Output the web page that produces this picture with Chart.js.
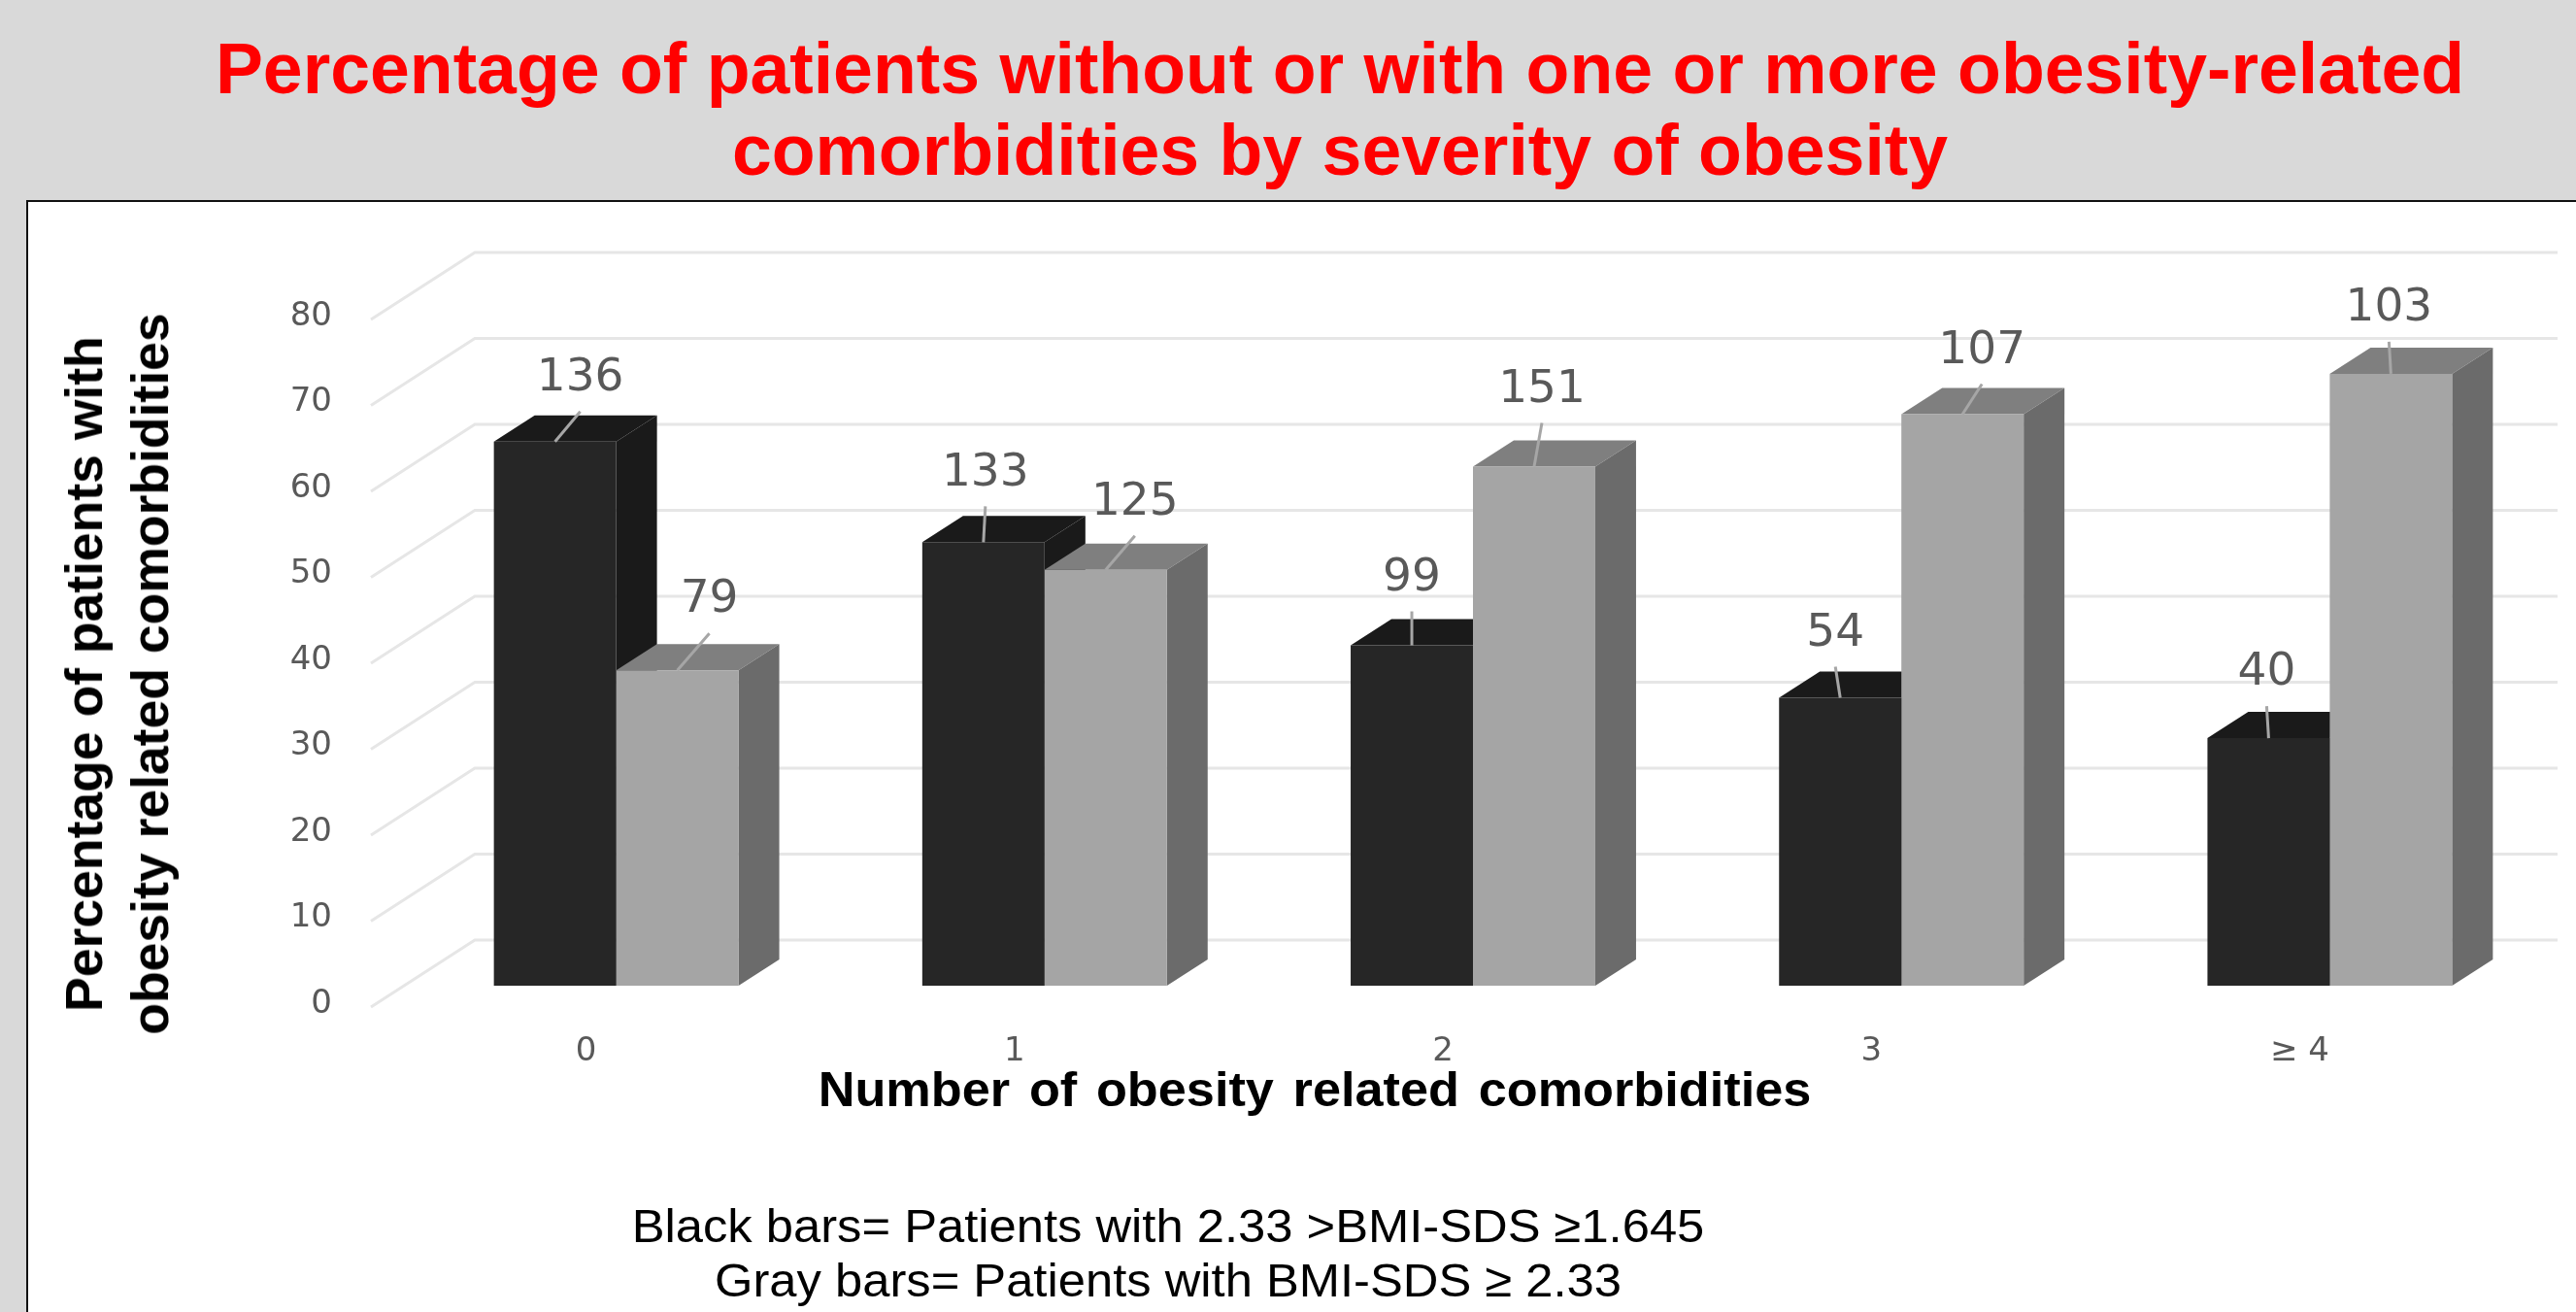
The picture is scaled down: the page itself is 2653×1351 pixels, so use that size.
<!DOCTYPE html>
<html>
<head>
<meta charset="utf-8">
<title>Obesity related comorbidities</title>
<script src="https://cdn.jsdelivr.net/npm/chart.js@4/dist/chart.umd.min.js"></script>
<style>
    html, body { margin: 0; width: 2653px; height: 1351px; overflow: hidden; background: #d9d9d9; }
    body { position: relative; font-family: "Liberation Sans", Arial, sans-serif; }
    #panel { position: absolute; left: 27px; top: 206px; width: 2640px; height: 1160px; background: #fff; border: 2px solid #111; }
    #chart { position: absolute; left: 0; top: 0; }
    .txt { position: absolute; white-space: nowrap; text-align: center; transform: translate(-50%, -50%); }
    #title { left: 1380px; top: 113px; color: #f00; font-weight: bold; font-size: 73.4px; line-height: 84px; }
    #xcap { left: 1354px; top: 1122px; color: #000; font-weight: bold; font-size: 50px; word-spacing: 5px; transform: translate(-50%, -50%) scaleX(1.045); }
    #ycap { left: 121px; top: 694px; color: #000; font-weight: bold; font-size: 53.5px; line-height: 68px; transform: translate(-50%, -50%) rotate(-90deg); }
    #note { left: 1203px; top: 1290px; color: #000; font-size: 49px; line-height: 56px; transform: translate(-50%, -50%) scaleX(1.035); }
</style>
</head>
<body>
<div id="panel"></div>
<canvas id="chart" width="2653" height="1351"></canvas>
<div id="title" class="txt">Percentage of patients without or with one or more obesity-related<br>comorbidities by severity of obesity</div>
<div id="xcap" class="txt">Number of obesity related comorbidities</div>
<div id="ycap" class="txt">Percentage of patients with<br>obesity related comorbidities</div>
<div id="note" class="txt">Black bars= Patients with 2.33 &gt;BMI-SDS ≥1.645<br>Gray bars= Patients with BMI-SDS ≥ 2.33</div>

<script>
const categories = ["0", "1", "2", "3", "≥ 4"]
const blackPercent = [63.3, 51.6, 39.6, 33.5, 28.8]
const grayPercent = [36.7, 48.4, 60.4, 66.5, 71.2]
const blackPatients = [136, 133, 99, 54, 40]
const grayPatients = [79, 125, 151, 107, 103]

// faux 3D: back wall with its receding gridlines, then top and side faces behind each bar
const boxFaces = {
    id: "boxFaces",
    beforeDatasetsDraw(chart, args, opts) {
        const ctx = chart.ctx
        const y = chart.scales.y
        ctx.save()
        ctx.lineWidth = 3
        ctx.strokeStyle = opts.gridColor
        y.ticks.forEach((t)=> {
            const py = y.getPixelForValue(t.value)
            ctx.beginPath()
            ctx.moveTo(opts.floorLeft, py + opts.floorFront)
            ctx.lineTo(opts.wallLeft, py + opts.wallBack)
            ctx.lineTo(opts.wallRight, py + opts.wallBack)
            ctx.stroke()
        })
        chart.data.datasets.forEach((ds, i)=> {
            chart.getDatasetMeta(i).data.forEach((bar)=> {
                const half = bar.width / 2
                const l = bar.x - half, r = bar.x + half
                ctx.fillStyle = ds.topColor
                poly(ctx, [[l, bar.y], [r, bar.y], [r + opts.dx, bar.y - opts.dy], [l + opts.dx, bar.y - opts.dy]])
                ctx.fillStyle = ds.sideColor
                poly(ctx, [[r, bar.y], [r + opts.dx, bar.y - opts.dy], [r + opts.dx, bar.base - opts.dy], [r, bar.base]])
            })
        })
        ctx.restore()
    },
    afterDatasetsDraw(chart, args, opts) {
        const ctx = chart.ctx
        ctx.save()
        ctx.font = opts.labelFont
        ctx.textAlign = "center"
        ctx.textBaseline = "middle"
        chart.data.datasets.forEach((ds, i)=> {
            chart.getDatasetMeta(i).data.forEach((bar, j)=> {
                const shift = opts.labelShift[i][j]
                const tx = bar.x + shift[0]
                const ty = bar.y - shift[1]
                // short leader line from the bar top towards its label
                ctx.strokeStyle = opts.leaderColor
                ctx.lineWidth = 3
                ctx.beginPath()
                ctx.moveTo(bar.x, bar.y)
                ctx.lineTo(tx, ty + 34)
                ctx.stroke()
                ctx.fillStyle = opts.labelColor
                ctx.fillText(ds.counts[j], tx, ty)
            })
        })
        ctx.restore()
    },
}

function poly(ctx, pts) {
    ctx.beginPath()
    pts.forEach((p, i)=> i ? ctx.lineTo(p[0], p[1]) : ctx.moveTo(p[0], p[1]))
    ctx.closePath()
    ctx.fill()
}

new Chart(document.getElementById("chart"), {
    type: "bar",
    plugins: [boxFaces],
    data: {
        labels: categories,
        datasets: [
            { label: "2.33 >BMI-SDS ≥1.645", data: blackPercent, counts: blackPatients,
              backgroundColor: "#262626", topColor: "#1a1a1a", sideColor: "#1a1a1a" },
            { label: "BMI-SDS ≥ 2.33", data: grayPercent, counts: grayPatients,
              backgroundColor: "#a5a5a5", topColor: "#7f7f7f", sideColor: "#6b6b6b" },
        ],
    },
    options: {
        responsive: false,
        animation: false,
        categoryPercentage: 0.571,
        barPercentage: 1,
        layout: { padding: { top: 307, right: 33, bottom: 236, left: 0 } },
        plugins: {
            legend: { display: false },
            title: { display: false },
            tooltip: { enabled: false },
            boxFaces: {
                dx: 42, dy: 27,
                floorLeft: 382, floorFront: 22,
                wallLeft: 489, wallRight: 2634, wallBack: -47,
                gridColor: "#e6e6e6",
                leaderColor: "#a6a6a6",
                labelColor: "#595959",
                labelFont: '47px "DejaVu Sans"',
                labelShift: [
                    [[26, 65], [2, 71], [0, 69], [-5, 66], [-2, 67]],
                    [[33, 72], [30, 69], [8, 79], [20, 65], [-2, 67]],
                ],
            },
        },
        scales: {
            x: {
                offset: true,
                grid: { display: false, drawTicks: false },
                border: { display: false },
                afterFit(scale) { scale.height = 100 },
                ticks: {
                    autoSkip: false,
                    maxRotation: 0,
                    padding: 48,
                    labelOffset: -31,
                    color: "#595959",
                    font: { family: "DejaVu Sans", size: 34 },
                },
            },
            y: {
                min: 0,
                max: 80,
                grid: { display: false, drawTicks: false },
                border: { display: false },
                afterFit(scale) { scale.width = 414 },
                ticks: {
                    stepSize: 10,
                    padding: 72,
                    labelOffset: 19,
                    color: "#595959",
                    font: { family: "DejaVu Sans", size: 34 },
                },
            },
        },
    },
})
</script>
</body>
</html>
